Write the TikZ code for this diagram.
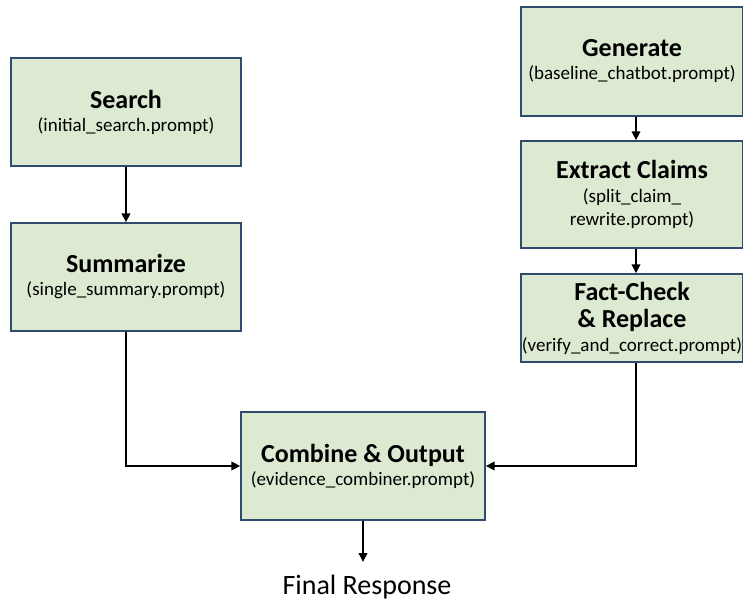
\documentclass[tikz,border=0pt]{standalone}
\usepackage{fontspec}
\setmainfont{Carlito}
\usetikzlibrary{arrows.meta}
\definecolor{boxfill}{HTML}{DCEAD2}
\definecolor{boxborder}{HTML}{2F4B6E}
\newcommand{\ttl}{\fontsize{26}{28}\selectfont\bfseries}
\begin{document}
\begin{tikzpicture}[x=1pt,y=-1pt,
  flowbox/.style={draw=boxborder, fill=boxfill, line width=1.4pt, align=center,
    inner sep=0pt, font=\fontsize{19}{23}\selectfont},
  conn/.style={line width=2pt, -{Triangle[length=9pt,width=8.5pt]}}]
\clip (0,0) rectangle (743,601);
\useasboundingbox (0,0) rectangle (743,601);

\node[flowbox, minimum width=230pt, minimum height=108pt] (search) at (126,112)
  {{\ttl Search}\\(initial\_search.prompt)};
\node[flowbox, minimum width=230pt, minimum height=108pt] (summ) at (126,277)
  {{\ttl Summarize}\\(single\_summary.prompt)};
\node[flowbox, minimum width=222pt, minimum height=109pt] (gen) at (632,61.5)
  {{\ttl Generate}\\(baseline\_chatbot.prompt)};
\node[flowbox, minimum width=222pt, minimum height=107pt] (ext) at (632,194.5)
  {{\ttl Extract Claims}\\[1pt](split\_claim\_\\rewrite.prompt)};
\node[flowbox, minimum width=222pt, minimum height=88pt] (fact) at (632,318)
  {{\ttl Fact-Check}\\[4pt]{\ttl \& Replace}\\[1pt](verify\_and\_correct.prompt)};
\node[flowbox, minimum width=244pt, minimum height=108pt] (comb) at (363,466)
  {{\ttl Combine \& Output}\\(evidence\_combiner.prompt)};
\node[font=\fontsize{28}{30}\selectfont, anchor=base, inner sep=0pt] (final) at (367,594) {Final Response};
\coordinate (finaltop) at (363,562);

\draw[conn] (search.south) -- (summ.north);
\draw[conn] ([xshift=4pt]gen.south) -- ([xshift=4pt]ext.north);
\draw[conn] ([xshift=4pt]ext.south) -- ([xshift=4pt]fact.north);
\draw[conn] (summ.south) |- (comb.west);
\draw[conn] ([xshift=4pt]fact.south) |- (comb.east);
\draw[conn] (comb.south) -- (finaltop);
\end{tikzpicture}
\end{document}
